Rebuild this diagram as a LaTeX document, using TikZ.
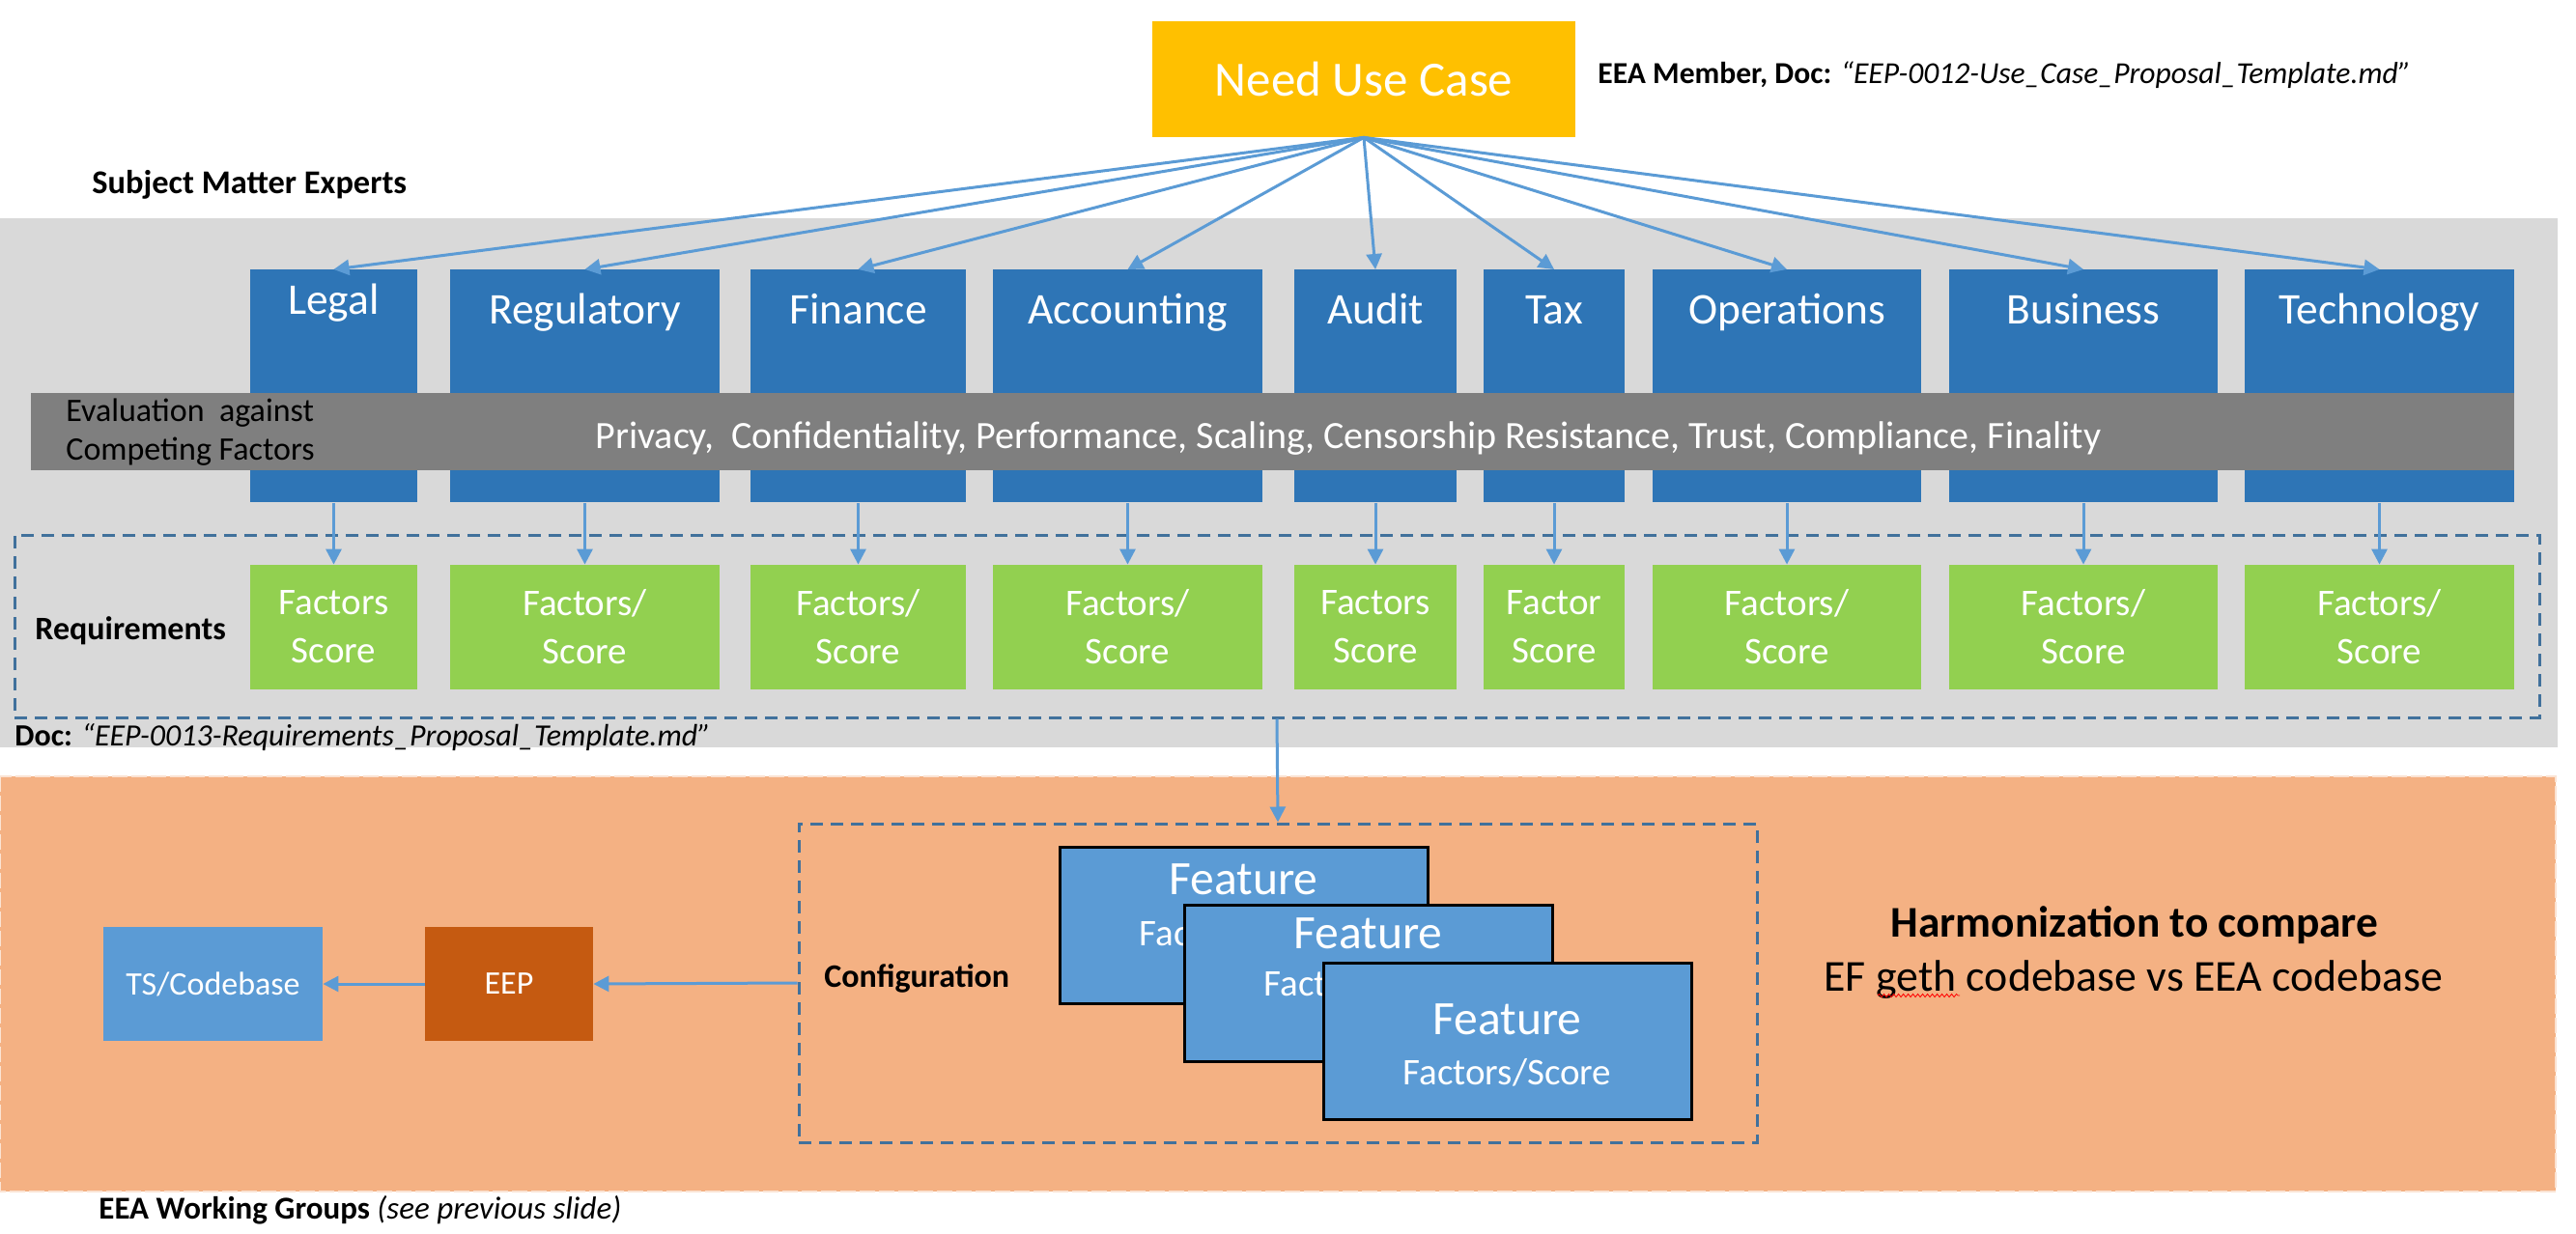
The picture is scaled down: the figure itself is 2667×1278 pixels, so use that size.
\documentclass[tikz,border=0pt]{standalone}
\usepackage{fontspec}
\setmainfont{Carlito}
\usetikzlibrary{arrows.meta,decorations.pathmorphing}
\definecolor{uyellow}{HTML}{FFC000}
\definecolor{sblue}{HTML}{2E75B6}
\definecolor{lblue}{HTML}{5B9BD5}
\definecolor{bgray}{HTML}{D9D9D9}
\definecolor{dgray}{HTML}{7F7F7F}
\definecolor{rgreen}{HTML}{92D050}
\definecolor{dashb}{HTML}{41719C}
\definecolor{obg}{HTML}{F4B183}
\definecolor{oborder}{HTML}{FBE3D3}
\definecolor{eepc}{HTML}{C55A11}
\newcommand\fsz[2]{\fontsize{#1}{#2}\selectfont}
\begin{document}
\begin{tikzpicture}[x=0.5pt,y=-0.5pt,
  conn/.style={draw=lblue, line width=1.5pt, -{Triangle[length=8pt,width=8pt]}},
  smebox/.style={fill=sblue, draw=none, inner xsep=0pt, inner ysep=0pt, anchor=north,
    text=white, font=\fsz{22.7}{27}, text height=28pt, text depth=92.5pt},
  reqbox/.style={fill=rgreen, draw=none, inner sep=0pt, minimum height=64.5pt,
    text=white, align=center, font=\fsz{19.5}{25}},
  featbox/.style={fill=lblue, draw=black, line width=1.5pt, inner sep=0pt,
    minimum width=190.5pt, minimum height=81pt},
  feattitle/.style={anchor=base, text=white, inner sep=0pt, font=\fsz{24.8}{30}},
  featsub/.style={anchor=base, text=white, inner sep=0pt, font=\fsz{19.5}{24}},
  dashbox/.style={draw=dashb, line width=1.5pt, dash pattern=on 6.5pt off 4pt, inner sep=0pt},
  plain/.style={inner sep=0pt, text=black},
]
\useasboundingbox (0,0) rectangle (2667,1278);
% backgrounds
\fill[bgray] (0,226) rectangle (2648,774);
\draw[fill=obg, draw=oborder, line width=1.2pt, dash pattern=on 8pt off 2pt] (0,804) rectangle (2646,1234);

% top
\node[fill=uyellow, inner sep=0pt, minimum width=219pt, minimum height=60pt, text=white, font=\fsz{25.5}{30}] (need) at (1412,82) {Need Use Case};
\node[plain, anchor=base west, font=\fsz{15.8}{19}] (eeamember) at (1654,87) {\textbf{EEA Member, Doc:} \textit{“EEP-0012-Use\_Case\_Proposal\_Template.md”}};
\node[plain, anchor=base west, font=\bfseries\fsz{17.2}{20}] (smetitle) at (95,201) {Subject Matter Experts};

% SME boxes
\node[smebox, minimum width=86.5pt, text height=23pt, text depth=97.5pt] (legal) at (345.5,279) {Legal};
\node[smebox, minimum width=139.5pt] (regul) at (605.5,279) {Regulatory};
\node[smebox, minimum width=111.5pt] (finance) at (888.5,279) {Finance};
\node[smebox, minimum width=139.5pt] (account) at (1167.5,279) {Accounting};
\node[smebox, minimum width=84pt] (audit) at (1424,279) {Audit};
\node[smebox, minimum width=73pt] (tax) at (1609,279) {Tax};
\node[smebox, minimum width=139pt] (oper) at (1850,279) {Operations};
\node[smebox, minimum width=139pt] (business) at (2157,279) {Business};
\node[smebox, minimum width=139.5pt] (tech) at (2463.5,279) {Technology};

% band
\node[fill=dgray, inner sep=0pt, minimum width=1285.5pt, minimum height=40pt] (band) at (1317.5,447) {};
\node[plain, anchor=base west, font=\fsz{17}{20}] (eval1) at (68,437) {Evaluation\ \ against};
\node[plain, anchor=base west, font=\fsz{17}{20}] (eval2) at (68,477) {Competing Factors};
\node[plain, anchor=base, text=white, font=\fsz{20}{24}] (bandtxt) at (1396,465) {Privacy,\ \ Confidentiality, Performance, Scaling, Censorship Resistance, Trust, Compliance, Finality};

% requirements dashed box
\node[dashbox, minimum width=1307pt, minimum height=94.5pt] (req) at (1322,648.5) {};
\node[plain, anchor=base west, font=\bfseries\fsz{17}{20}] (reqtitle) at (36,662) {Requirements};
\node[plain, anchor=base west, font=\fsz{16}{19}] (reqdoc) at (15,772) {\textbf{Doc:} \textit{“EEP-0013-Requirements\_Proposal\_Template.md”}};

% requirement boxes
\node[reqbox, minimum width=86.5pt] (rlegal) at (345.5,649.5) {Factors\\Score};
\node[reqbox, minimum width=139.5pt] (rregul) at (605.5,649.5) {Factors/\\Score};
\node[reqbox, minimum width=111.5pt] (rfinance) at (888.5,649.5) {Factors/\\Score};
\node[reqbox, minimum width=139.5pt] (raccount) at (1167.5,649.5) {Factors/\\Score};
\node[reqbox, minimum width=84pt] (raudit) at (1424,649.5) {Factors\\Score};
\node[reqbox, minimum width=73pt] (rtax) at (1609,649.5) {Factor\\Score};
\node[reqbox, minimum width=139pt] (roper) at (1850,649.5) {Factors/\\Score};
\node[reqbox, minimum width=139pt] (rbusiness) at (2157,649.5) {Factors/\\Score};
\node[reqbox, minimum width=139.5pt] (rtech) at (2463.5,649.5) {Factors/\\Score};

% arrows from need
\foreach \b in {legal,regul,finance,account,audit,tax,oper,business,tech}
  \draw[conn] (need.south) -- (\b.north);
% vertical arrows
\foreach \b in {legal,regul,finance,account,audit,tax,oper,business,tech}
  \draw[conn] (\b.south) -- (r\b.north);

% lower part
\node[dashbox, minimum width=496pt, minimum height=165pt] (cfg) at (1323,1018) {};
\draw[conn] (req.south) -- (cfg.north);
\node[plain, anchor=base west, font=\bfseries\fsz{17}{20}] (cfgtitle) at (853,1022) {Configuration};

\node[featbox, label={[feattitle, yshift=-25.5pt]north:Feature}, label={[featsub, yshift=-51.75pt]north:Factors/Score}] (f1) at (1287.5,958) {};
\node[featbox, label={[feattitle, yshift=-23.5pt]north:Feature}, label={[featsub, yshift=-48pt]north:Factors/Score}] (f2) at (1416.5,1018) {};
\node[featbox, label={[feattitle, yshift=-38pt]north:Feature}, label={[featsub, yshift=-63.75pt]north:Factors/Score}] (f3) at (1560.5,1078) {};

\node[fill=lblue, inner sep=0pt, minimum width=113.5pt, minimum height=59pt, text=white, font=\fsz{17}{20}] (ts) at (220.5,1019) {TS/Codebase};
\node[fill=eepc, inner sep=0pt, minimum width=87pt, minimum height=59pt, text=white, font=\fsz{17}{20}] (eep) at (527,1019) {EEP};
\draw[conn] (cfg.west) -- (eep.east);
\draw[conn] (eep.west) -- (ts.east);

\node[plain, anchor=base, font=\bfseries\fsz{22.7}{27}] (harm) at (2210,970) {Harmonization to compare};
\node[plain, anchor=base, font=\fsz{22.9}{27}] (efgeth) at (2209,1026) {EF geth codebase vs EEA codebase};
\draw[red, line width=0.4pt, decorate, decoration={snake, amplitude=0.8pt, segment length=2.5pt}] (1944,1031) -- (2029,1031);

\node[plain, anchor=base west, font=\fsz{16.5}{19}] (wg) at (102,1262) {\textbf{EEA Working Groups} \textit{(see previous slide)}};
\end{tikzpicture}
\end{document}
